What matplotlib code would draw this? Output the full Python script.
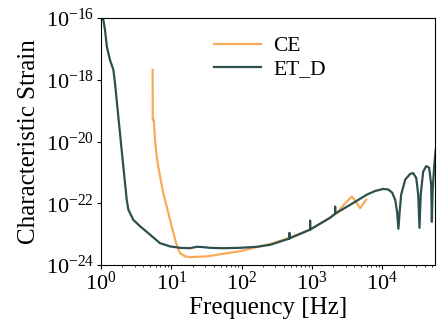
import numpy as np
import matplotlib
matplotlib.use("Agg")
import matplotlib.pyplot as plt
from matplotlib.ticker import NullLocator, LogLocator

# ---- data (frequency in Hz, characteristic strain) ----
et_freq = [1.02, 1.08, 1.14, 1.21, 1.34, 1.50, 1.58, 1.67, 1.86, 2.08, 2.32, 2.45,
           2.88, 3.59, 4.98, 6.90, 9.58, 13.3, 18.4, 23.2, 28.2, 35.5, 54.4, 94.8,
           166, 254, 477, 477, 478, 488, 939, 939, 940, 1807, 2130, 2130, 2132,
           3484, 6010, 7900, 10260, 12100, 13800, 15200, 16200, 16900, 17600,
           18500, 21100, 24800, 27400, 30300, 32300, 33700, 35100, 38000, 42000,
           46300, 49400, 50500, 51900, 54600, 57300]
et_strain = [9.3e-17, 8.7e-17, 4.1e-17, 1.2e-17, 4.4e-18, 2.1e-18, 7.9e-19, 2.2e-19,
             1.9e-20, 1.5e-21, 1.3e-22, 6.2e-23, 2.9e-23, 1.8e-23, 9.6e-24, 5.1e-24,
             4.0e-24, 3.6e-24, 3.5e-24, 3.9e-24, 3.8e-24, 3.6e-24, 3.5e-24, 3.6e-24,
             3.9e-24, 4.5e-24, 7.2e-24, 1.1e-23, 7.2e-24, 7.4e-24, 1.4e-23, 2.75e-23,
             1.4e-23, 3.4e-23, 4.6e-23, 7.8e-23, 4.6e-23,
             8.9e-23, 1.9e-22, 2.5e-22, 2.9e-22, 2.8e-22, 2.2e-22, 1.3e-22, 5.2e-23,
             1.5e-23, 5.2e-23, 1.9e-22, 5.8e-22, 8.9e-22, 9.5e-22, 6.6e-22, 1.9e-22,
             1.6e-23, 1.9e-22, 1.05e-21, 1.6e-21, 1.4e-21, 4.0e-22, 2.5e-23,
             2.7e-22, 1.7e-21, 5.4e-21]

ce_freq = [5.42, 5.44, 5.62, 5.86, 6.20, 6.53, 7.06, 7.69, 8.60, 9.58, 10.7, 11.9,
           13.3, 15.7, 18.4, 31.9, 94.8, 282, 488, 939, 1807, 2275, 2960, 3680,
           4240, 4830, 5330, 5890]
ce_strain = [2.1e-18, 5.0e-20, 5.0e-20, 1.1e-20, 3.2e-21, 1.5e-21, 5.7e-22, 2.1e-22,
             7.8e-23, 2.9e-23, 1.07e-23, 4.5e-24, 2.4e-24, 1.9e-24, 1.8e-24, 1.9e-24,
             2.8e-24, 5.1e-24, 7.8e-24, 1.4e-23, 3.4e-23, 4.9e-23, 1.0e-22, 1.66e-22,
             1.1e-22, 6.9e-23, 9.5e-23, 1.3e-22]

CE_COLOR = "#F7AA5C"
ET_COLOR = "#2F4F4F"

plt.rcParams["font.family"] = ["Liberation Serif", "DejaVu Serif"]
plt.rcParams["mathtext.fontset"] = "stix"

fig = plt.figure(figsize=(4.48, 3.22), dpi=100)
ax = fig.add_axes([101 / 448, 1 - 265 / 322, 334 / 448, 247 / 322])

ax.loglog(ce_freq, ce_strain, color=CE_COLOR, lw=1.6, label="CE")
ax.loglog(et_freq, et_strain, color=ET_COLOR, lw=1.6, label="ET_D")

ax.set_xlim(1, 5.6e4)
ax.set_ylim(1e-24, 1e-16)
ax.set_yticks([1e-24, 1e-22, 1e-20, 1e-18, 1e-16])
ax.yaxis.set_minor_locator(NullLocator())
ax.xaxis.set_minor_locator(LogLocator(base=10, subs=np.arange(2, 10)))
ax.tick_params(labelsize=16, length=3, width=0.8, pad=2)
ax.tick_params(which="minor", length=1.5, width=0.6)

ax.set_xlabel("Frequency [Hz]", fontsize=18, labelpad=1)
ax.set_ylabel("Characteristic Strain", fontsize=18, labelpad=4)

ax.legend(loc="upper left", bbox_to_anchor=(0.28, 1.005), frameon=False,
          fontsize=15.5, handlelength=2.2, labelspacing=0.15, handletextpad=0.55)

fig.savefig("out.png", dpi=100)
